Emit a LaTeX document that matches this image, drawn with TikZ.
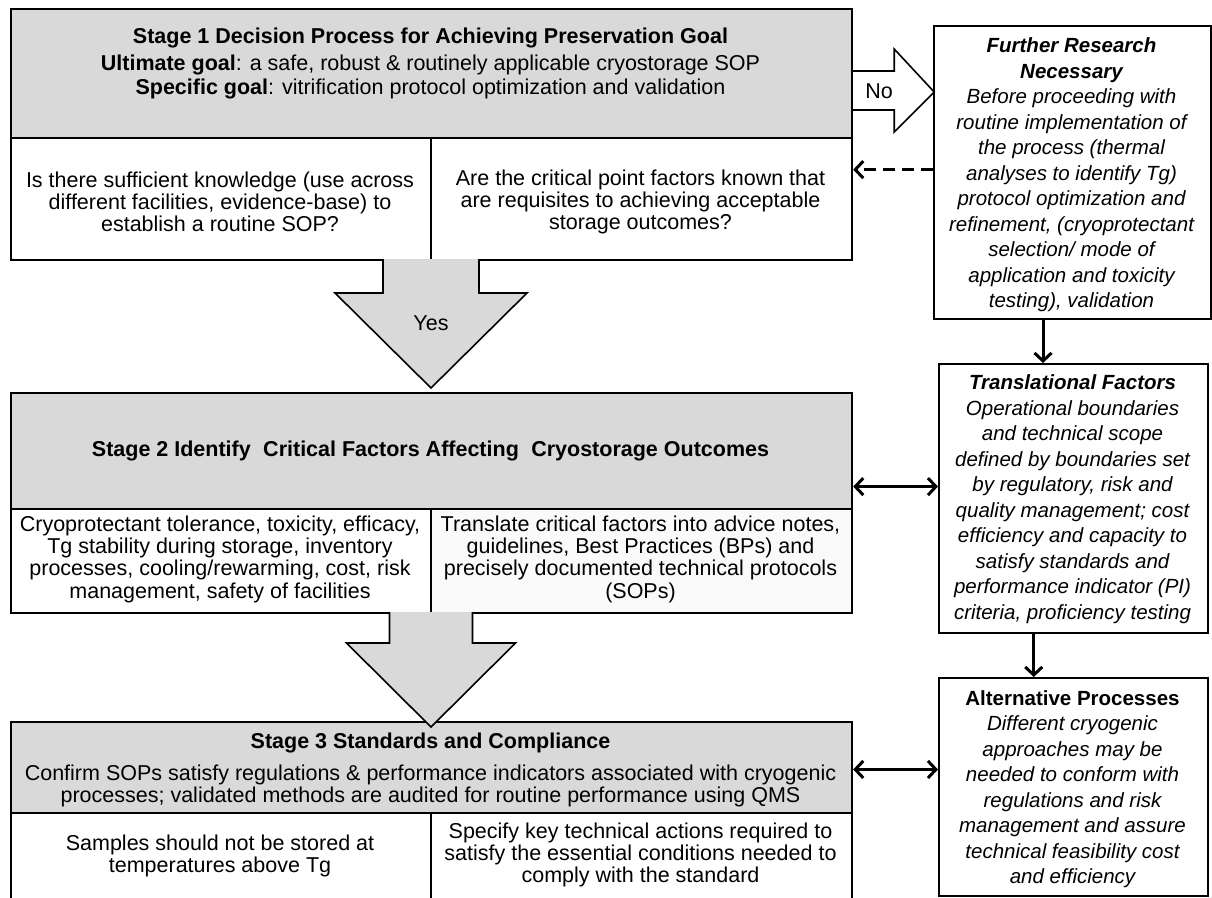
\documentclass[tikz,border=0pt]{standalone}
\usepackage{fontspec}
\setmainfont{Liberation Sans}
\usetikzlibrary{arrows.meta,calc}
\definecolor{headgray}{RGB}{217,217,217}
\definecolor{offwhite}{RGB}{250,250,250}
\begin{document}
\begin{tikzpicture}[x=1pt,y=-1pt,
  boxline/.style={draw=black, line width=2.2pt},
  stagehead/.style={boxline, fill=headgray, anchor=north west, inner sep=0pt},
  stagecell/.style={boxline, fill=white, anchor=north west, inner sep=0pt},
  stagetext/.style={align=center, font=\fontsize{21.5}{22.3}\selectfont, inner sep=0pt},
  sidebox/.style={boxline, fill=white, anchor=north west, inner sep=0pt},
  sidetext/.style={align=center, font=\fontsize{20.5}{25.5}\selectfont\itshape, inner sep=0pt},
  blockarrow/.style={draw=black, line width=1.6pt, line join=miter},
  conn/.style={line width=3pt, -{Straight Barb[length=8pt,width=17pt,line width=3pt]}},
  dblconn/.style={line width=3pt, {Straight Barb[length=8pt,width=17pt,line width=3pt]}-{Straight Barb[length=8pt,width=17pt,line width=3pt]}},
  dashconn/.style={conn, dash pattern=on 12pt off 7pt}
]
\clip (0,0) rectangle (1212,897);
\fill[white] (0,0) rectangle (1212,897);

% ---------- Stage 1 ----------
\node[stagehead, minimum width=841pt, minimum height=129pt] (s1h) at (10,8) {};
\node[stagecell, minimum width=420pt, minimum height=122pt] (s1l) at (10,137) {};
\node[stagecell, minimum width=421pt, minimum height=122pt] (s1r) at (430,137) {};
\node[stagetext, font=\fontsize{21.5}{24}\selectfont] (s1t) at (430.5,63) {\textbf{Stage 1 Decision Process for Achieving Preservation Goal}\\[3pt]
  \textbf{Ultimate goal}: a safe, robust \& routinely applicable cryostorage SOP\\
  \textbf{Specific goal}: vitrification protocol optimization and validation};
\node[stagetext] (s1lt) at (220,202) {Is there sufficient knowledge (use across\\ different facilities, evidence-base) to\\ establish a routine SOP?};
\node[stagetext] (s1rt) at (640.5,202) {Are the critical point factors known that\\ are requisites to achieving acceptable\\ storage outcomes?};

% ---------- Stage 2 ----------
\node[stagehead, minimum width=841pt, minimum height=116pt] (s2h) at (10,392) {};
\node[stagecell, minimum width=420pt, minimum height=104pt] (s2l) at (10,508) {};
\node[stagecell, fill=offwhite, minimum width=421pt, minimum height=104pt] (s2r) at (430,508) {};
\node[stagetext] (s2t) at (430.5,451) {\textbf{Stage 2 Identify\hspace{0.3em} Critical Factors Affecting\hspace{0.3em} Cryostorage Outcomes}};
\node[stagetext] (s2lt) at (220,559) {Cryoprotectant tolerance, toxicity, efficacy,\\ Tg stability during storage, inventory\\ processes, cooling/rewarming, cost, risk\\ management, safety of facilities};
\node[stagetext] (s2rt) at (640.5,559) {Translate critical factors into advice notes,\\ guidelines, Best Practices (BPs) and\\ precisely documented technical protocols\\ (SOPs)};

% ---------- Stage 3 ----------
\node[stagehead, minimum width=841pt, minimum height=91pt] (s3h) at (10,721) {};
\node[stagecell, minimum width=420pt, minimum height=120pt] (s3l) at (10,812) {};
\node[stagecell, minimum width=421pt, minimum height=120pt] (s3r) at (430,812) {};
\node[stagetext] (s3t) at (430.5,743) {\textbf{Stage 3 Standards and Compliance}};
\node[stagetext] (s3b) at (430.5,786) {Confirm SOPs satisfy regulations \& performance indicators associated with cryogenic\\ processes; validated methods are audited for routine performance using QMS};
\node[stagetext] (s3lt) at (220,856) {Samples should not be stored at\\ temperatures above Tg};
\node[stagetext] (s3rt) at (640.5,855) {Specify key technical actions required to\\ satisfy the essential conditions needed to\\ comply with the standard};

% ---------- Side boxes ----------
\node[sidebox, minimum width=277pt, minimum height=293pt] (fr) at (933,25) {};
\node[sidetext] (frt) at (1071.5,175) {\textbf{Further Research}\\ \textbf{Necessary}\\ Before proceeding with\\ routine implementation of\\ the process (thermal\\ analyses to identify Tg)\\ protocol optimization and\\ refinement, (cryoprotectant\\ selection/ mode of\\ application and toxicity\\ testing), validation};

\node[sidebox, minimum width=269pt, minimum height=269pt] (tf) at (938,363) {};
\node[sidetext] (tft) at (1072.5,499) {\textbf{Translational Factors}\\ Operational boundaries\\ and technical scope\\ defined by boundaries set\\ by regulatory, risk and\\ quality management; cost\\ efficiency and capacity to\\ satisfy standards and\\ performance indicator (PI)\\ criteria, proficiency testing};

\node[sidebox, minimum width=269pt, minimum height=218pt] (ap) at (938,677) {};
\node[sidetext] (apt) at (1072.5,789) {{\upshape\bfseries Alternative Processes}\\ Different cryogenic\\ approaches may be\\ needed to conform with\\ regulations and risk\\ management and assure\\ technical feasibility cost\\ and efficiency};

% ---------- Block arrows ----------
% No arrow (Stage 1 -> Further research)
\begin{scope}[shift={(s1h.north east)}]
  \draw[blockarrow, fill=white] (0,63) -- (41,63) -- (41,41) -- (81,84) -- (41,124) -- (41,102) -- (0,102);
\end{scope}
\node[font=\fontsize{21.5}{22}\selectfont, inner sep=0pt] (nolbl) at (879,91) {No};

% Yes arrow (Stage 1 -> Stage 2)
\begin{scope}[shift={(431,259)}]
  \draw[blockarrow, fill=headgray] (-48,0) -- (-48,34) -- (-96,34) -- (0,129) -- (96,34) -- (48,34) -- (48,0);
\end{scope}
\node[font=\fontsize{21.5}{22}\selectfont, inner sep=0pt] (yeslbl) at (431,323) {Yes};

% Stage 2 -> Stage 3 arrow
\begin{scope}[shift={(431,612)}]
  \draw[blockarrow, fill=headgray] (-41.5,0) -- (-41.5,31) -- (-84.5,31) -- (0,115) -- (84.5,31) -- (41.5,31) -- (41.5,0);
\end{scope}

% ---------- Connectors ----------
\coordinate (frw) at ($(fr.north west)!0.49!(fr.south west)$);
\draw[dashconn] (frw) -- (frw -| s1r.east);

\coordinate (frs) at ($(fr.south west)!0.394!(fr.south east)$);
\draw[conn] (frs) -- (frs |- tf.north);

\coordinate (tfs) at ($(tf.south west)!0.353!(tf.south east)$);
\draw[conn] (tfs) -- (tfs |- ap.north);

\coordinate (s2e) at ($(s2h.north east)!0.8!(s2h.south east)$);
\draw[dblconn] (s2e) -- (s2e -| tf.west);

\coordinate (s3e) at ($(s3h.north east)!0.52!(s3h.south east)$);
\draw[dblconn] (s3e) -- (s3e -| ap.west);
\end{tikzpicture}
\end{document}
